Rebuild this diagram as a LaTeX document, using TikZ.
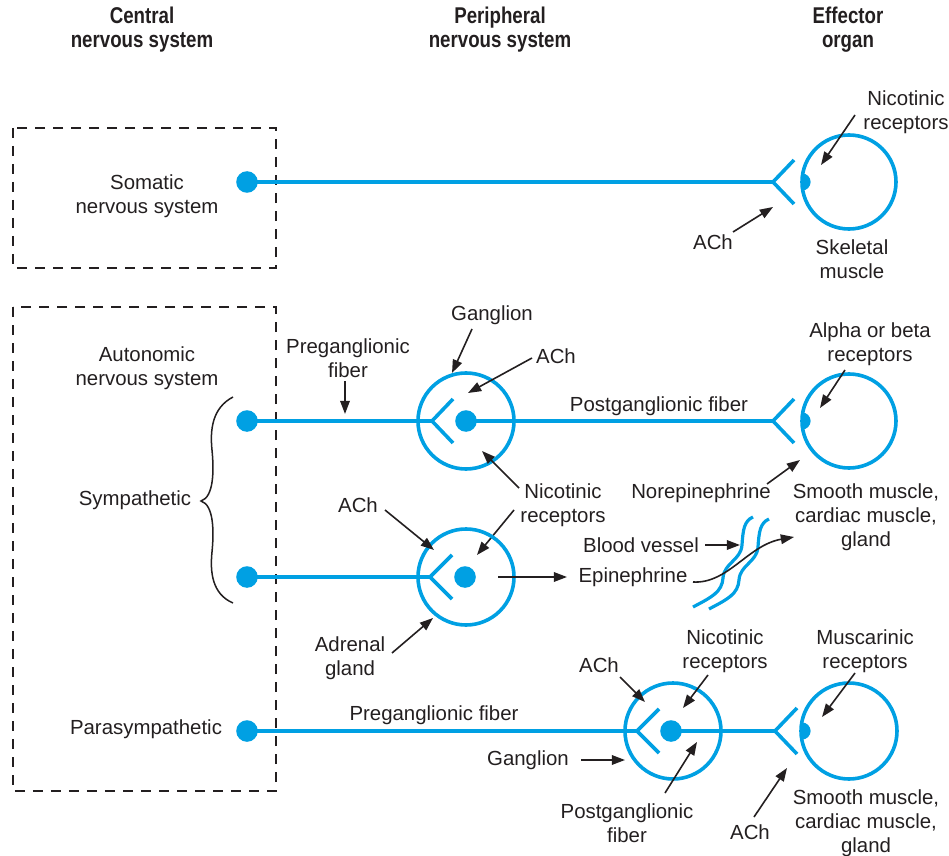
\documentclass[tikz,border=0pt]{standalone}
\usepackage{fontspec}
\setmainfont{Liberation Sans}
\newfontfamily\hdrfont[FakeStretch=0.82]{Liberation Sans}
\usetikzlibrary{arrows.meta}
\definecolor{nblue}{RGB}{0,160,227}
\definecolor{ink}{RGB}{35,31,32}
\begin{document}
\begin{tikzpicture}[x=0.5pt,y=-0.5pt,
  lbl/.style={font=\fontsize{10.2}{12}\selectfont, text=ink, align=center, inner sep=0pt},
  hdr/.style={font=\hdrfont\bfseries\fontsize{11.4}{12}\selectfont, text=ink, align=center, inner sep=0pt},
  nerve/.style={draw=nblue, line width=1.8pt},
  dotn/.style={circle, fill=nblue, inner sep=0pt, minimum size=10.8pt},
  cell/.style={circle, draw=nblue, line width=1.8pt, inner sep=0pt, minimum size=47pt},
  arr/.style={draw=ink, line width=0.8pt, -{Triangle[length=6.6pt,width=4.8pt]}},
  cnsbox/.style={draw=ink, line width=1pt, dash pattern=on 5pt off 4pt}]
\useasboundingbox (0,0) rectangle (949,856);

% headers
\node[hdr] (h1) at (142,30) {Central\\nervous system};
\node[hdr] (h2) at (500,30) {Peripheral\\nervous system};
\node[hdr] (h3) at (848,30) {Effector\\organ};

% CNS boxes
\draw[cnsbox] (13,128) rectangle (276,268);
\draw[cnsbox] (13,307) rectangle (276,791);

% ---------- somatic ----------
\node[lbl] (som) at (147,196) {Somatic\\nervous system};
\node[dotn] (d1) at (247,182) {};
\coordinate (v1) at (773,182);
\draw[nerve] (d1.center) -- (v1);
\draw[nerve] (794,160) -- (v1) -- (794,204);
\node[cell] (m1) at (849,182) {};
\begin{scope}\clip (801,160) rectangle (820,204);
\fill[nblue] (802,182) circle[radius=4.3pt];\end{scope}
\node[lbl] (nic1) at (906,112) {Nicotinic\\receptors};
\coordinate (nic1s) at (855,115); \coordinate (nic1t) at (821,165);
\draw[arr] (nic1s) -- (nic1t);
\node[lbl] (ach1) at (713,242) {ACh};
\coordinate (ach1s) at (733,232); \coordinate (ach1t) at (773,207);
\draw[arr] (ach1s) -- (ach1t);
\node[lbl] (skel) at (852,259) {Skeletal\\muscle};

% ---------- autonomic ----------
\node[lbl] (auto) at (147,368) {Autonomic\\nervous system};
\node[lbl] (symp) at (135,500) {Sympathetic};
\draw[ink, line width=0.75pt] (233,397) .. controls (212,408) and (210,430) .. (212,450)
  .. controls (214,470) and (214,497) .. (201,501)
  .. controls (214,505) and (214,532) .. (212,552)
  .. controls (210,572) and (212,594) .. (233,603);

% sympathetic row 1
\node[dotn] (d2) at (247,421) {};
\node[cell, minimum size=48pt] (g1) at (466,421) {};
\node[dotn] (gd1) at (466,421) {};
\coordinate (gv1) at (432,421);
\draw[nerve] (d2.center) -- (gv1);
\draw[nerve] (453,399) -- (gv1) -- (453,443);
\coordinate (v2) at (773,421);
\draw[nerve] (gd1.center) -- (v2);
\draw[nerve] (794,399) -- (v2) -- (794,443);
\node[cell] (m2) at (849,421) {};
\begin{scope}\clip (801,399) rectangle (820,443);
\fill[nblue] (802,421) circle[radius=4.3pt];\end{scope}

\node[lbl] (gang1) at (492,315) {Ganglion};
\coordinate (gang1s) at (472,329); \coordinate (gang1t) at (452,373);
\draw[arr] (gang1s) -- (gang1t);
\node[lbl] (ach2) at (556,356) {ACh};
\coordinate (ach2s) at (532,358); \coordinate (ach2t) at (468,393);
\draw[arr] (ach2s) -- (ach2t);
\node[lbl] (pre1) at (348,358) {Preganglionic\\fiber};
\coordinate (pre1s) at (345,381); \coordinate (pre1t) at (345,414);
\draw[arr] (pre1s) -- (pre1t);
\node[lbl] (post1) at (659,406) {Postganglionic fiber};
\node[lbl] (nic2) at (563,505) {Nicotinic\\receptors};
\coordinate (nic2s) at (519,488); \coordinate (nic2t) at (482,451);
\draw[arr] (nic2s) -- (nic2t);
\coordinate (nic3s) at (514,510); \coordinate (nic3t) at (477,555);
\draw[arr] (nic3s) -- (nic3t);
\node[lbl] (alpha) at (870,344) {Alpha or beta\\receptors};
\coordinate (alphas) at (845,370); \coordinate (alphat) at (820,408);
\draw[arr] (alphas) -- (alphat);
\node[lbl] (nor) at (701,493) {Norepinephrine};
\coordinate (nors) at (767,484); \coordinate (nort) at (800,460);
\draw[arr] (nors) -- (nort);
\node[lbl] (sm1) at (866,517) {Smooth muscle,\\cardiac muscle,\\gland};

% sympathetic row 2 (adrenal)
\node[dotn] (d3) at (247,577) {};
\node[cell, minimum size=48pt] (g2) at (466,577) {};
\node[dotn] (gd2) at (465,577) {};
\coordinate (gv2) at (430,577);
\draw[nerve] (d3.center) -- (gv2);
\draw[nerve] (452,555) -- (gv2) -- (452,599);
\node[lbl] (ach3) at (358,505) {ACh};
\coordinate (ach3s) at (385,510); \coordinate (ach3t) at (434,550);
\draw[arr] (ach3s) -- (ach3t);
\node[lbl] (adr) at (350,658) {Adrenal\\gland};
\coordinate (adrs) at (392,653); \coordinate (adrt) at (433,618);
\draw[arr] (adrs) -- (adrt);
\node[lbl] (epi) at (633,577) {Epinephrine};
\coordinate (epis) at (498,577); \coordinate (epit1) at (567,577);
\draw[arr] (epis) -- (epit1);
% blood vessel
\draw[nerve, line width=1.6pt] (693,607) .. controls (712,597) and (722,592) .. (723,578)
  .. controls (724,563) and (741,560) .. (742,545)
  .. controls (743,530) and (744,521) .. (753,517);
\draw[nerve, line width=1.6pt] (709,609) .. controls (728,599) and (738,594) .. (739,580)
  .. controls (740,565) and (757,562) .. (758,547)
  .. controls (759,532) and (760,523) .. (769,519);
\node[lbl] (bv) at (641,545) {Blood vessel};
\coordinate (bvt) at (740,545);
\draw[arr] ([xshift=3pt]bv.east) -- (bvt);
\coordinate (epic) at (693,582); \coordinate (epit) at (794,537);
\draw[arr] (epic) .. controls (728,584) and (748,545) .. (epit);

% ---------- parasympathetic ----------
\node[lbl] (para) at (146,729) {Parasympathetic};
\node[dotn] (d4) at (247,731) {};
\node[cell, minimum size=48pt] (g3) at (673,731) {};
\node[dotn] (gd3) at (671,731) {};
\coordinate (gv3) at (637,731);
\draw[nerve] (d4.center) -- (gv3);
\draw[nerve] (659,709) -- (gv3) -- (659,753);
\coordinate (v4) at (775,731);
\draw[nerve] (gd3.center) -- (v4);
\draw[nerve] (797,708) -- (v4) -- (797,754);
\node[cell, minimum size=48pt] (m4) at (849,731) {};
\begin{scope}\clip (801,708) rectangle (820,754);
\fill[nblue] (802,731) circle[radius=4.3pt];\end{scope}

\node[lbl] (pre2) at (434,715) {Preganglionic fiber};
\node[lbl] (gang2) at (528,760) {Ganglion};
\coordinate (gang2t) at (625,760);
\draw[arr] ([xshift=6pt]gang2.east) -- (gang2t);
\node[lbl] (ach4) at (599,665) {ACh};
\coordinate (ach4s) at (620,677); \coordinate (ach4t) at (645,702);
\draw[arr] (ach4s) -- (ach4t);
\node[lbl] (nic4) at (725,651) {Nicotinic\\receptors};
\coordinate (nic4s) at (708,675); \coordinate (nic4t) at (683,708);
\draw[arr] (nic4s) -- (nic4t);
\node[lbl] (post2) at (627,823) {Postganglionic\\fiber};
\coordinate (post2s) at (665,793); \coordinate (post2t) at (697,742);
\draw[arr] (post2s) -- (post2t);
\node[lbl] (musc) at (865,651) {Muscarinic\\receptors};
\coordinate (muscs) at (855,673); \coordinate (musct) at (822,717);
\draw[arr] (muscs) -- (musct);
\node[lbl] (ach5) at (750,832) {ACh};
\coordinate (ach5s) at (754,817); \coordinate (ach5t) at (787,768);
\draw[arr] (ach5s) -- (ach5t);
\node[lbl] (sm2) at (866,823) {Smooth muscle,\\cardiac muscle,\\gland};
\end{tikzpicture}
\end{document}
